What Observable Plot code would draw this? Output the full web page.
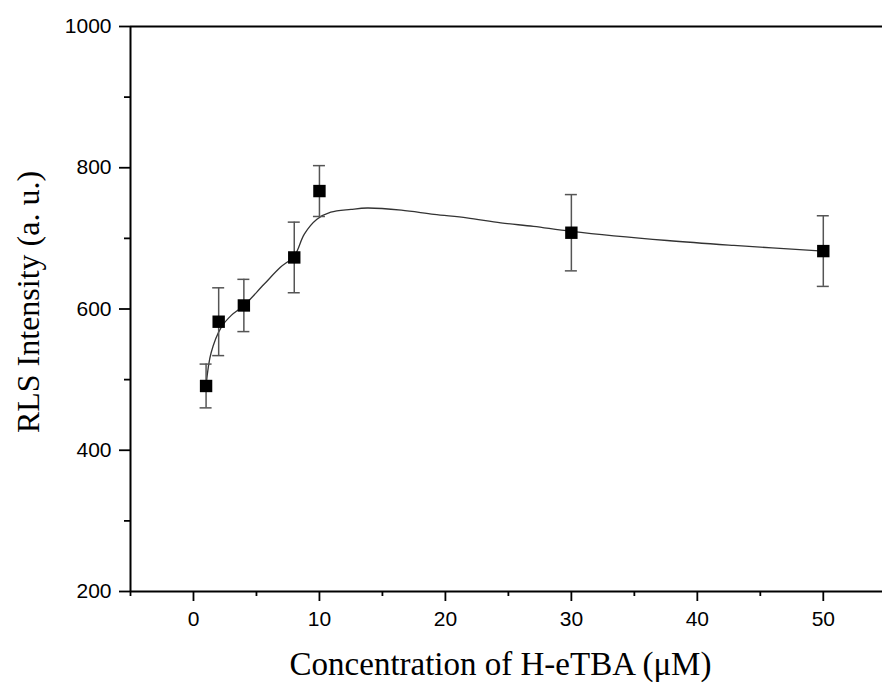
<!DOCTYPE html>
<html>
<head>
<meta charset="utf-8">
<script src="https://cdn.jsdelivr.net/npm/d3@7"></script>
<script src="https://cdn.jsdelivr.net/npm/@observablehq/plot@0.6"></script>
<style>
  html, body { margin: 0; padding: 0; background: #fff; }
  svg { display: block; }
</style>
</head>
<body>
<script>
// Measured points
const conc = [1, 2, 4, 8, 10, 30, 50];
const intensity = [491, 582, 605, 673, 767, 708, 682];
const errors = [31, 48, 37, 50, 36, 54, 50];

// Fitted curve
const fitX = [1, 1.4, 2.2, 3, 4, 5.6, 6.9, 8, 8.8, 9.8, 10.9, 12.5, 13.8, 16.5, 19.1, 21.7, 24.4, 27, 30, 37.6, 42.9, 50];
const fitY = [492, 538, 574, 591, 605, 635, 659, 675, 706, 727, 737, 741, 743, 740, 734, 729, 722, 717, 710, 697, 690, 682];

// Ticks
const yMajor = [200, 400, 600, 800, 1000];
const yMinor = [300, 500, 700, 900];
const xMajor = [0, 10, 20, 30, 40, 50];
const xMinor = [-5, 5, 15, 25, 35, 45];

const xTitle = "Concentration of H-eTBA (μM)";
const yTitle = "RLS Intensity (a. u.)";

const points = conc.map((x, i) => ({x, y: intensity[i], lo: intensity[i] - errors[i], hi: intensity[i] + errors[i]}));
const fit = fitX.map((x, i) => ({x, y: fitY[i]}));

const serif = "'Liberation Serif', 'Times New Roman', serif";

const chart = Plot.plot({
  width: 882,
  height: 684,
  marginLeft: 130,
  marginRight: 0,
  marginTop: 26,
  marginBottom: 93,
  style: {background: "white", fontFamily: "'Liberation Sans', Arial, sans-serif", color: "black"},
  x: {domain: [-5, 54.7]},
  y: {domain: [200, 1000]},
  marks: [
    Plot.axisY(yMajor, {tickSize: 11, tickPadding: 8, fontSize: 21, strokeWidth: 1.8, tickFormat: d => String(d), label: null}),
    Plot.axisY(yMinor, {tickSize: 6, text: null, strokeWidth: 1.8, label: null}),
    Plot.axisX(xMajor, {tickSize: 10, tickPadding: 10, fontSize: 21, strokeWidth: 1.8, tickFormat: d => String(d), label: null}),
    Plot.axisX(xMinor, {tickSize: 5, text: null, strokeWidth: 1.8, label: null}),
    Plot.ruleY([1000], {stroke: "black", strokeWidth: 2}),
    Plot.ruleY([200], {stroke: "black", strokeWidth: 2}),
    Plot.ruleX([-5], {stroke: "black", strokeWidth: 2}),
    Plot.line(fit, {x: "x", y: "y", curve: "catmull-rom", stroke: "#333", strokeWidth: 1.3}),
    Plot.ruleX(points, {x: "x", y1: "lo", y2: "hi", stroke: "#555", strokeWidth: 1.5}),
    Plot.ruleY(points, {y: "hi", x1: "x", x2: "x", insetLeft: -6, insetRight: -6, stroke: "#555", strokeWidth: 1.5}),
    Plot.ruleY(points, {y: "lo", x1: "x", x2: "x", insetLeft: -6, insetRight: -6, stroke: "#555", strokeWidth: 1.5}),
    Plot.dot(points, {x: "x", y: "y", symbol: "square", r: 7, fill: "black", stroke: "none"}),
    Plot.text([xTitle], {frameAnchor: "bottom", dy: 73, dx: -6, textAnchor: "middle", lineAnchor: "middle", fontSize: 33, fontFamily: serif, fill: "black"}),
    Plot.text([yTitle], {frameAnchor: "left", dx: -102, dy: -7, rotate: -90, textAnchor: "middle", lineAnchor: "middle", fontSize: 32, fontFamily: serif, fill: "black"})
  ]
});
document.body.appendChild(chart);
</script>
</body>
</html>
